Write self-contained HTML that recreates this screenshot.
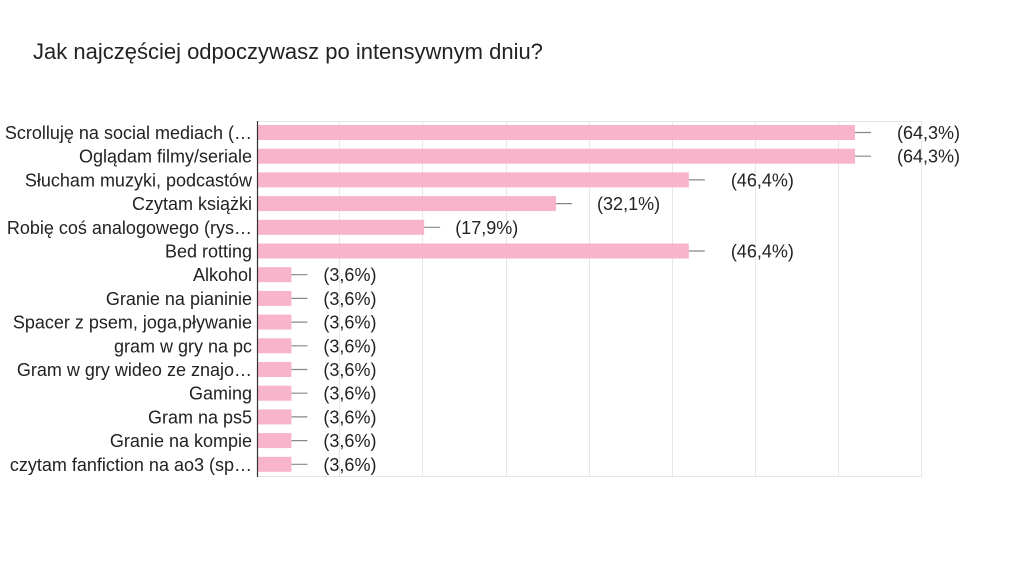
<!DOCTYPE html>
<html><head><meta charset="utf-8"><style>
body{margin:0;background:#fff;}
svg{display:block;font-family:"Liberation Sans",Arial,sans-serif;}
</style></head><body>
<svg width="1024" height="576" viewBox="0 0 1024 576">
<rect width="1024" height="576" fill="#fff"/>
<text x="33" y="59" font-size="22" fill="#222">Jak najczęściej odpoczywasz po intensywnym dniu?</text>
<g stroke="#e6e6e6" stroke-width="1">
<line x1="339.5" y1="121" x2="339.5" y2="477"/>
<line x1="422.5" y1="121" x2="422.5" y2="477"/>
<line x1="506.5" y1="121" x2="506.5" y2="477"/>
<line x1="589.5" y1="121" x2="589.5" y2="477"/>
<line x1="672.5" y1="121" x2="672.5" y2="477"/>
<line x1="755.5" y1="121" x2="755.5" y2="477"/>
<line x1="838.5" y1="121" x2="838.5" y2="477"/>
<line x1="921.5" y1="121" x2="921.5" y2="477"/>
<line x1="257" y1="121.5" x2="922" y2="121.5"/>
<line x1="257" y1="476.5" x2="922" y2="476.5"/>
</g>
<g id="bars" font-size="18" fill="#222"></g>
<line x1="257.5" y1="121" x2="257.5" y2="477" stroke="#333" stroke-width="1.2"/>
</svg>
<script>
var d=[["Scrolluję na social mediach (…",64.3,42],["Oglądam filmy/seriale",64.3,42],["Słucham muzyki, podcastów",46.4,42],["Czytam książki",32.1,41],["Robię coś analogowego (rys…",17.9,31],["Bed rotting",46.4,42],["Alkohol",3.6,32],["Granie na pianinie",3.6,32],["Spacer z psem, joga,pływanie",3.6,32],["gram w gry na pc",3.6,32],["Gram w gry wideo ze znajo…",3.6,32],["Gaming",3.6,32],["Gram na ps5",3.6,32],["Granie na kompie",3.6,32],["czytam fanfiction na ao3 (sp…",3.6,32]];
var g=document.getElementById('bars'),s='';
d.forEach(function(r,i){
 var cy=132.5+i*23.7,w=r[1]*9.285,e=258+w;
 s+='<text x="252" y="'+(cy+6.5)+'" text-anchor="end">'+r[0]+'</text>';
 s+='<rect x="258" y="'+(cy-7.5)+'" width="'+w+'" height="15" fill="#f8b4cb"/>';
 s+='<line x1="'+e+'" y1="'+cy+'" x2="'+(e+16)+'" y2="'+cy+'" stroke="#888" stroke-width="1.2"/>';
 s+='<text x="'+(e+r[2])+'" y="'+(cy+6.5)+'">('+r[1].toFixed(1).replace('.',',')+'%)</text>';
});
g.innerHTML=s;
</script>
</body></html>
